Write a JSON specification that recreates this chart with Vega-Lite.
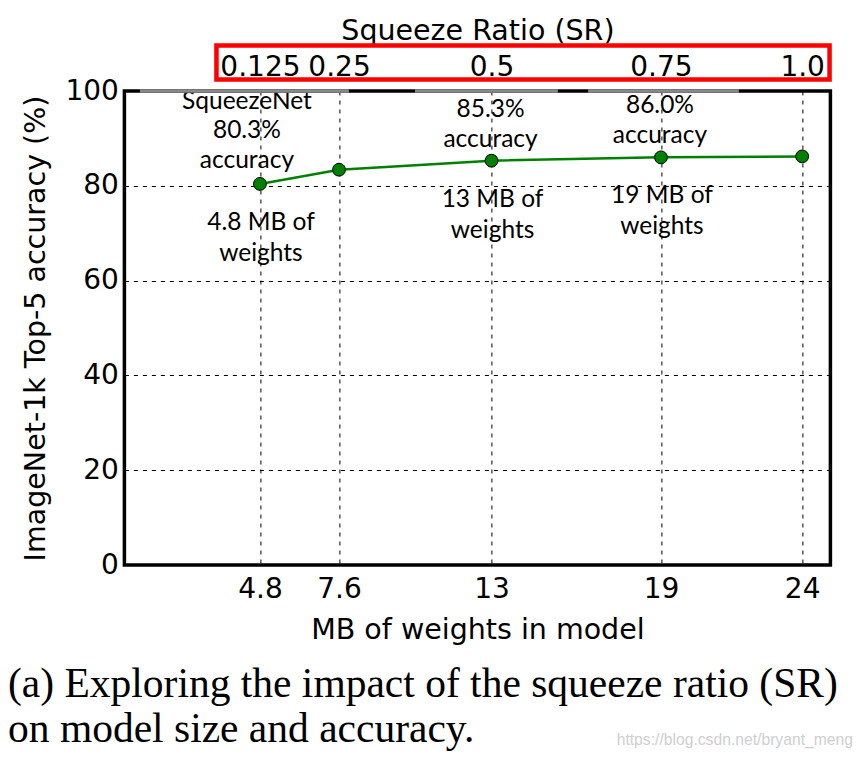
{
  "$schema": "https://vega.github.io/schema/vega-lite/v6.json",
  "width": 706,
  "height": 474,
  "autosize": {"type": "none"},
  "padding": {"left": 124.4, "top": 91, "right": 31.6, "bottom": 192},
  "background": "white",
  "config": {
    "view": {"stroke": "black", "strokeWidth": 3.5},
    "font": "DejaVu Sans",
    "axis": {
      "labelFont": "DejaVu Sans",
      "labelFontSize": 28,
      "labelColor": "black",
      "titleFont": "DejaVu Sans",
      "titleFontSize": 28.5,
      "titleFontWeight": "normal",
      "titleColor": "black",
      "ticks": false,
      "domain": false,
      "labelOverlap": false,
      "labelFlush": false,
      "labelBound": false,
      "gridColor": "black",
      "gridWidth": 1,
      "gridDash": [4, 5],
      "gridOpacity": 1
    }
  },
  "datasets": {
    "main": [
      {"mb": 4.8, "sr": "0.125", "acc": 80.4},
      {"mb": 7.6, "sr": "0.25", "acc": 83.4},
      {"mb": 13, "sr": "0.5", "acc": 85.3},
      {"mb": 19, "sr": "0.75", "acc": 86.0},
      {"mb": 24, "sr": "1.0", "acc": 86.2}
    ],
    "notesThree": [
      {"mb": 4.8, "acc": 80.4, "above": "SqueezeNet\n80.3%\naccuracy"}
    ],
    "notesTwo": [
      {"mb": 13, "acc": 85.3, "above": "85.3%\naccuracy"},
      {"mb": 19, "acc": 86.0, "above": "86.0%\naccuracy"}
    ],
    "notesBelow": [
      {"mb": 4.8, "acc": 80.4, "below": "4.8 MB of\nweights"},
      {"mb": 13, "acc": 85.3, "below": "13 MB of\nweights"},
      {"mb": 19, "acc": 86.0, "below": "19 MB of\nweights"}
    ],
    "segments": [
      {"from": 0.55, "to": 7.95},
      {"from": 10.29, "to": 15.35},
      {"from": 16.42, "to": 21.76}
    ]
  },
  "resolve": {"axis": {"x": "independent", "y": "independent"}},
  "layer": [
    {
      "data": {"name": "main"},
      "mark": {"type": "line", "color": "#008000", "strokeWidth": 2.5},
      "encoding": {
        "x": {
          "field": "mb", "type": "quantitative",
          "scale": {"domain": [0, 25], "nice": false, "zero": false},
          "axis": {
            "orient": "bottom",
            "values": [4.8, 7.6, 13, 19, 24],
            "format": ".1~f",
            "grid": true,
            "labelPadding": 10,
            "title": "MB of weights in model",
            "titlePadding": 12
          }
        },
        "y": {
          "field": "acc", "type": "quantitative",
          "scale": {"domain": [0, 100], "nice": false, "zero": false},
          "axis": {
            "orient": "left",
            "values": [0, 20, 40, 60, 80, 100],
            "format": "d",
            "grid": true,
            "labelPadding": 6,
            "title": "ImageNet-1k Top-5 accuracy (%)",
            "titlePadding": 14
          }
        }
      }
    },
    {
      "data": {"name": "main"},
      "mark": {"type": "point", "filled": true, "fill": "#008000", "stroke": "black", "strokeWidth": 1, "size": 165, "opacity": 1},
      "encoding": {
        "x": {
          "field": "mb", "type": "quantitative",
          "axis": {
            "orient": "top",
            "values": [4.8, 7.6, 13, 19, 24],
            "labelExpr": "datum.value == 4.8 ? '0.125' : datum.value == 7.6 ? '0.25' : datum.value == 13 ? '0.5' : datum.value == 19 ? '0.75' : '1.0'",
            "grid": false,
            "labelPadding": 10,
            "title": "Squeeze Ratio (SR)",
            "titlePadding": 8
          }
        },
        "y": {"field": "acc", "type": "quantitative", "axis": null}
      }
    },
    {
      "data": {"name": "notesThree"},
      "mark": {"type": "text", "font": "Lato", "fontSize": 24.5, "color": "black", "baseline": "alphabetic", "align": "center", "dy": -75, "dx": -13, "lineBreak": "\n", "lineHeight": 29.5},
      "encoding": {
        "x": {"field": "mb", "type": "quantitative", "axis": null},
        "y": {"field": "acc", "type": "quantitative", "axis": null},
        "text": {"field": "above"}
      }
    },
    {
      "data": {"name": "notesTwo"},
      "mark": {"type": "text", "font": "Lato", "fontSize": 24.5, "color": "black", "baseline": "alphabetic", "align": "center", "dy": -44, "dx": -1, "lineBreak": "\n", "lineHeight": 30},
      "encoding": {
        "x": {"field": "mb", "type": "quantitative", "axis": null},
        "y": {"field": "acc", "type": "quantitative", "axis": null},
        "text": {"field": "above"}
      }
    },
    {
      "data": {"name": "notesBelow"},
      "mark": {"type": "text", "font": "Lato", "fontSize": 24.5, "color": "black", "baseline": "alphabetic", "align": "center", "dy": 46, "dx": 1, "lineBreak": "\n", "lineHeight": 31},
      "encoding": {
        "x": {"field": "mb", "type": "quantitative", "axis": null},
        "y": {"field": "acc", "type": "quantitative", "axis": null},
        "text": {"field": "below"}
      }
    },
    {
      "data": {"name": "segments"},
      "mark": {"type": "rule", "color": "#888888", "strokeWidth": 3.5},
      "encoding": {
        "x": {"field": "from", "type": "quantitative", "axis": null},
        "x2": {"field": "to"},
        "y": {"datum": 100, "type": "quantitative", "axis": null}
      }
    },
    {
      "data": {"values": [{}]},
      "mark": {"type": "rect", "filled": false, "fill": null, "stroke": "#ff0000", "strokeWidth": 4.5, "clip": false},
      "encoding": {
        "x": {"datum": 3.26, "type": "quantitative", "axis": null},
        "x2": {"datum": 24.97},
        "y": {"datum": 109.6, "type": "quantitative", "axis": null},
        "y2": {"datum": 102.4}
      }
    },
    {
      "data": {"values": [{}]},
      "mark": {"type": "text", "text": ["(a) Exploring the impact of the squeeze ratio (SR)", "on model size and accuracy."], "font": "Liberation Serif", "fontSize": 41.5, "color": "black", "align": "left", "baseline": "alphabetic", "lineHeight": 45, "dx": -116.4, "clip": false},
      "encoding": {
        "x": {"datum": 0, "type": "quantitative", "axis": null},
        "y": {"datum": -27.8, "type": "quantitative", "axis": null}
      }
    },
    {
      "data": {"values": [{}]},
      "mark": {"type": "text", "text": "https://blog.csdn.net/bryant_meng", "font": "Liberation Sans", "fontSize": 15.7, "color": "#cfcfcf", "align": "right", "baseline": "middle", "dx": 22.6, "clip": false},
      "encoding": {
        "x": {"datum": 25, "type": "quantitative", "axis": null},
        "y": {"datum": -36.9, "type": "quantitative", "axis": null}
      }
    }
  ]
}
